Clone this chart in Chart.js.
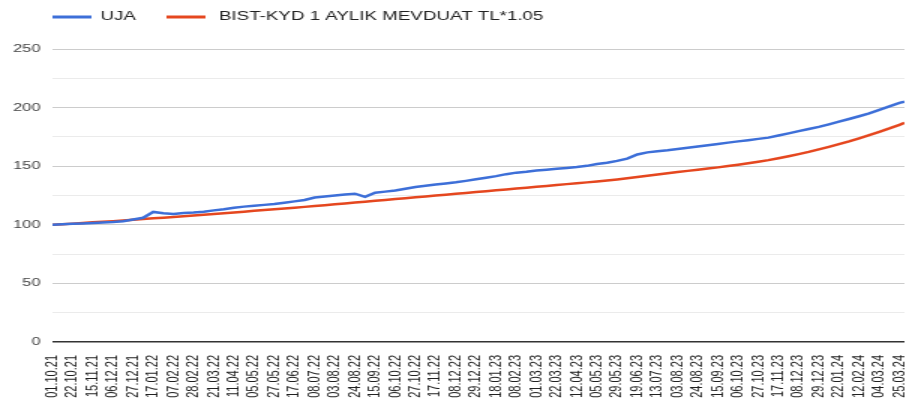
<!DOCTYPE html>
<html>
<head>
<meta charset="utf-8">
<script src="https://cdn.jsdelivr.net/npm/chart.js@4/dist/chart.umd.min.js"></script>
<style>
  html, body { margin:0; padding:0; background:#fff; overflow:hidden; }
  /* source chart is a ~612px wide chart stretched to 918px */
  #wrap { width:612px; height:403px; transform:scaleX(1.5); transform-origin:0 0; }
</style>
</head>
<body>
<div id="wrap"><canvas id="chart" width="612" height="403"></canvas></div>
<script>
const dateLabels = [
  "01.10.21","22.10.21","15.11.21","06.12.21","27.12.21","17.01.22","07.02.22","28.02.22",
  "21.03.22","11.04.22","05.05.22","27.05.22","17.06.22","08.07.22","03.08.22","24.08.22",
  "15.09.22","06.10.22","27.10.22","17.11.22","08.12.22","29.12.22","18.01.23","08.02.23",
  "01.03.23","22.03.23","12.04.23","05.05.23","29.05.23","19.06.23","13.07.23","03.08.23",
  "24.08.23","15.09.23","06.10.23","27.10.23","17.11.23","08.12.23","29.12.23","22.01.24",
  "12.02.24","04.03.24","25.03.24"
];

// values read every half label step; the last one is a few days after 25.03.24
const lastStep = 42.25;
const ujaValues = [
  100,100.4,100.8,101.1,101.5,101.9,102.3,103.0,104.5,106.0,
  111.0,109.8,109.2,110.0,110.5,111.2,112.3,113.3,114.5,115.5,
  116.2,117.0,117.8,118.9,120.0,121.2,123.3,124.2,125.0,125.8,
  126.5,123.8,127.3,128.3,129.3,130.8,132.3,133.3,134.3,135.3,
  136.3,137.5,138.8,140.2,141.5,143.2,144.5,145.3,146.3,147.0,
  147.8,148.5,149.3,150.3,151.8,153.0,154.5,156.5,160.0,161.8,
  162.8,163.6,164.6,165.7,166.8,167.9,169.0,170.1,171.2,172.2,
  173.3,174.4,176.2,178.0,179.9,181.7,183.5,185.7,188.0,190.3,
  192.6,195.0,198.0,201.0,204.0,205.0
];
const mevduatValues = [
  100,100.5,101.0,101.5,102.1,102.6,103.1,103.7,104.3,104.9,
  105.5,106.1,106.7,107.3,107.9,108.5,109.2,109.8,110.5,111.2,
  111.9,112.6,113.3,113.9,114.6,115.3,116.0,116.7,117.5,118.2,
  119.0,119.7,120.5,121.2,122.0,122.7,123.5,124.2,125.0,125.7,
  126.5,127.2,128.0,128.7,129.5,130.2,131.0,131.7,132.5,133.2,
  134.0,134.7,135.5,136.2,137.0,137.8,138.7,139.7,140.8,141.9,
  143.0,144.0,145.0,146.0,147.0,148.0,149.0,150.1,151.3,152.5,
  153.8,155.2,156.8,158.5,160.3,162.2,164.3,166.5,168.8,171.2,
  173.8,176.5,179.3,182.2,185.3,187.0
];
const seriesNames = ["UJA", "BIST-KYD 1 AYLIK MEVDUAT TL*1.05"];
const seriesColors = ["#3d6fd8", "#e5471f"];

const toPoints = vals => vals.map((v, i) => ({ x: i === vals.length - 1 ? lastStep : i / 2, y: v }));

const FONT = "'Liberation Sans', Arial, sans-serif";

// legend drawn by hand to get Google-style line swatches
const topLegend = {
  id: "topLegend",
  afterDraw(chart){
    const ctx = chart.ctx;
    const items = [{ x: 35, tx: 67 }, { x: 111, tx: 146 }];
    ctx.save();
    ctx.font = "12.5px " + FONT;
    ctx.textBaseline = "middle";
    chart.data.datasets.forEach((ds, i) => {
      ctx.strokeStyle = ds.borderColor;
      ctx.lineWidth = 3;
      ctx.beginPath();
      ctx.moveTo(items[i].x, 17);
      ctx.lineTo(items[i].x + 26, 17);
      ctx.stroke();
      ctx.fillStyle = "#222";
      ctx.fillText(ds.label, items[i].tx, 17);
    });
    ctx.restore();
  }
};

new Chart(document.getElementById("chart"), {
  type: "line",
  data: {
    datasets: [
      { label: seriesNames[0], data: toPoints(ujaValues), borderColor: seriesColors[0], borderWidth: 2.5 },
      { label: seriesNames[1], data: toPoints(mevduatValues), borderColor: seriesColors[1], borderWidth: 2.5 }
    ]
  },
  options: {
    responsive: false,
    animation: false,
    devicePixelRatio: 1,
    layout: { padding: { top: 49, right: 9, left: 0, bottom: 0 } },
    elements: { point: { radius: 0 }, line: { tension: 0 } },
    plugins: { legend: { display: false }, tooltip: { enabled: false } },
    scales: {
      x: {
        type: "linear",
        min: 0,
        max: lastStep,
        afterBuildTicks: s => { s.ticks = dateLabels.map((_, i) => ({ value: i })); },
        afterFit: s => { s.height = 61; s.paddingLeft = 0; s.paddingRight = 0; },
        grid: { display: false, drawTicks: false },
        border: { display: false },
        ticks: {
          autoSkip: false, minRotation: 90, maxRotation: 90, padding: 13,
          color: "#222", font: { family: FONT, size: 11 },
          callback: v => dateLabels[v] ?? ""
        }
      },
      y: {
        min: 0, max: 250,
        afterFit: s => { s.width = 35; },
        grid: {
          drawTicks: false,
          color: c => c.tick.value === 0 ? "#333" : (c.tick.value % 50 === 0 ? "#cccccc" : "#ebebeb"),
          lineWidth: c => c.tick.value === 0 ? 1.5 : 1
        },
        border: { display: false },
        ticks: {
          stepSize: 25, padding: 8,
          color: "#444", font: { family: FONT, size: 11 },
          callback: v => v % 50 === 0 ? v : ""
        }
      }
    }
  },
  plugins: [topLegend]
});
</script>
</body>
</html>
